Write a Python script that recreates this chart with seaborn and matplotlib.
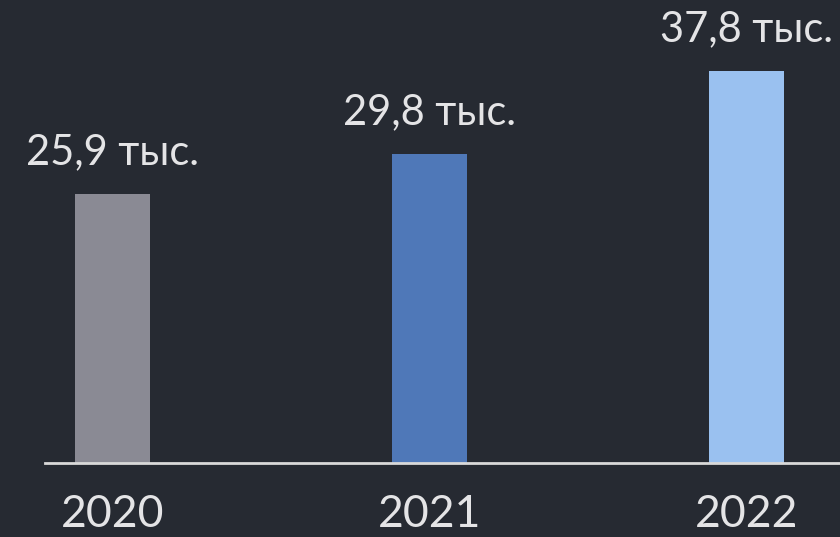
import pandas as pd
import seaborn as sns
import matplotlib.pyplot as plt

# Chart data
years = ['2020', '2021', '2022']
values = [25.9, 29.8, 37.8]
labels = ['25,9 тыс.', '29,8 тыс.', '37,8 тыс.']
colors = ['#8a8a94', '#4f78b8', '#9ac1f0']

bg = '#262a32'
text_color = '#e4e4e6'

df = pd.DataFrame({'year': years, 'value': values})

sns.set_theme(style='white')
plt.rcParams['font.family'] = ['Lato', 'DejaVu Sans']

fig = plt.figure(figsize=(8.4, 5.37), dpi=100, facecolor=bg)
ax = fig.add_axes([45 / 840, 74 / 537, 795 / 840, 463 / 537])
ax.set_facecolor(bg)

sns.barplot(data=df, x='year', y='value', hue='year', palette=colors,
            width=0.237, legend=False, ax=ax, saturation=1, linewidth=0)

# value labels above bars
for i, (v, lab) in enumerate(zip(values, labels)):
    ax.text(i, v + 2.9, lab, ha='center', va='baseline',
            fontsize=30, color=text_color)

ax.set_xlim(-0.213, 2.295)
ax.set_ylim(0, 44.65)
ax.set_xlabel('')
ax.set_ylabel('')
ax.set_yticks([])
ax.tick_params(axis='x', length=0, pad=22, labelsize=32, labelcolor=text_color)

for side in ['top', 'left', 'right']:
    ax.spines[side].set_visible(False)
ax.spines['bottom'].set_color('#d9d9d9')
ax.spines['bottom'].set_linewidth(2)

fig.savefig('out.png', dpi=100, facecolor=bg)
